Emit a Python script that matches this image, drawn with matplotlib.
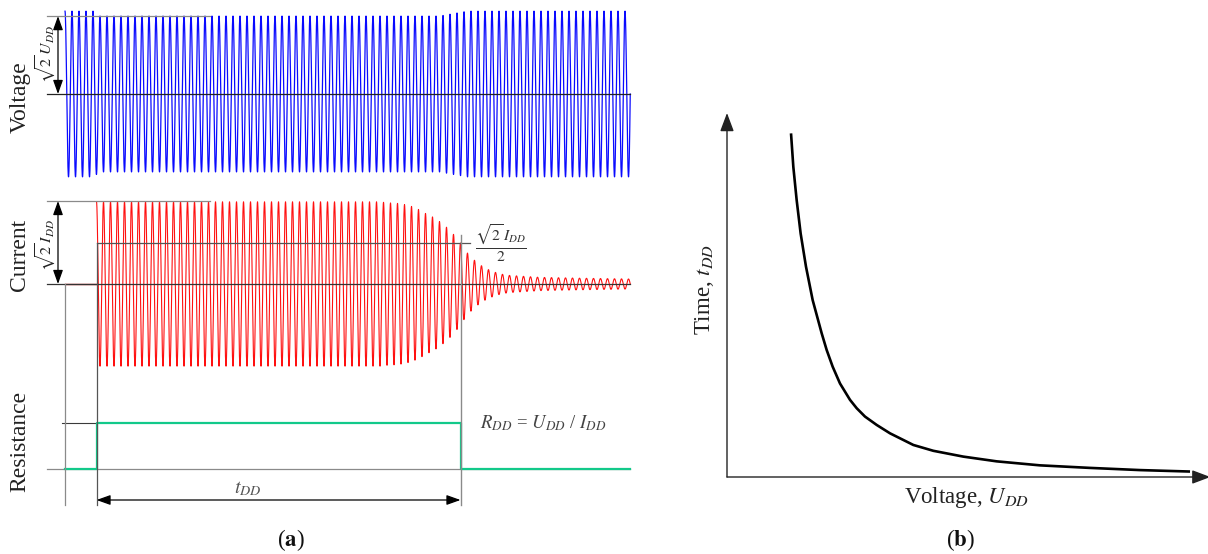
import numpy as np
import matplotlib
matplotlib.use("Agg")
import matplotlib.pyplot as plt

plt.rcParams['font.family'] = ['Liberation Serif', 'DejaVu Serif']
plt.rcParams['mathtext.fontset'] = 'stix'

# ---------------- data (panel a) ----------------
FREQ_HZ = 50.0
T_START = 0.0          # ms, start of record
T_FAULT = 90.0         # ms, fault inception
T_DD_END = 1130.0      # ms, end of t_DD
T_END = 1615.0         # ms, end of record

# voltage envelope (pu)
V_ENV_T = [0, 88, 92, 1070, 1150, 1615]
V_ENV_A = [1.01, 1.01, 0.95, 0.95, 1.01, 1.01]
V_REF = 0.95           # sqrt(2) U_DD

# current envelope (pu)
I_ENV_T = [90, 900, 917, 954, 977, 994, 1014, 1034, 1054, 1074, 1094, 1114, 1129,
           1146, 1166, 1186, 1206, 1226, 1246, 1266, 1300, 1357, 1471, 1615]
I_ENV_A = [0.99, 0.99, 0.98, 0.97, 0.95, 0.93, 0.89, 0.84, 0.80, 0.74, 0.67, 0.58, 0.50,
           0.39, 0.30, 0.23, 0.18, 0.145, 0.12, 0.105, 0.095, 0.08, 0.07, 0.06]
I_REF = 1.0            # sqrt(2) I_DD
I_HALF = 0.5           # sqrt(2) I_DD / 2

# resistance (step)
R_T = [0, 90, 1130, 1615]
R_V = [0, 1, 0, 0]

# ---------------- data (panel b) ----------------
U_DD = [1.331, 1.379, 1.448, 1.531, 1.642, 1.781, 1.968, 2.072, 2.197, 2.349, 2.557,
        2.696, 2.869, 3.112, 3.389, 3.874, 4.289, 4.913, 5.607, 6.507, 7.547, 8.586, 9.626]
T_DD = [9.44, 8.52, 7.61, 6.69, 5.78, 4.86, 3.95, 3.49, 3.03, 2.57, 2.12,
        1.89, 1.66, 1.43, 1.20, 0.88, 0.72, 0.56, 0.43, 0.32, 0.25, 0.19, 0.15]

# ---------------- layout ----------------
W, H = 1208, 554
fig = plt.figure(figsize=(W / 100, H / 100), dpi=100)

PX_PER_MS = 7.0 / 20.0
X0_PX = 65.0
def t_of_px(x):
    return (x - X0_PX) / PX_PER_MS

axa = fig.add_axes([0, 0, 640 / W, 1])
axa.set_xlim(t_of_px(0), t_of_px(640))
axa.set_ylim(H, 0)
axa.axis('off')

V_BASE, V_SCALE = 94.0, 82.0
I_BASE, I_SCALE = 284.0, 83.0
R_BASE, R_SCALE = 469.0, 46.0
BOTTOM = 505.0
ARROW_Y = 500.0
LEFT_T = t_of_px(47)
REF_END_T = t_of_px(210)
DIM_T = t_of_px(58)

gray = '#8a8a8a'
dark = '#3a3a3a'

# voltage
t = np.arange(T_START, T_END + 0.01, 0.2)
v = np.interp(t, V_ENV_T, V_ENV_A) * np.cos(2 * np.pi * FREQ_HZ * t / 1000.0)
axa.plot(t, V_BASE - V_SCALE * v, color='#0a0aff', lw=0.9, zorder=2)

# current
tc = np.arange(T_FAULT, T_END + 0.01, 0.2)
ic = np.interp(tc, I_ENV_T, I_ENV_A) * np.cos(2 * np.pi * FREQ_HZ * (tc - T_FAULT) / 1000.0)
axa.plot([T_START, T_FAULT], [I_BASE, I_BASE], color='#b00000', lw=1.0, zorder=3)
axa.plot(tc, I_BASE - I_SCALE * ic, color='#ff1010', lw=0.8, zorder=2)

# resistance
axa.plot([LEFT_T, T_END], [R_BASE, R_BASE], color=gray, lw=0.9, zorder=1)
axa.plot([t_of_px(62), T_FAULT], [R_BASE - R_SCALE, R_BASE - R_SCALE], color=dark, lw=0.8, zorder=1)
axa.step(R_T, R_BASE - R_SCALE * np.array(R_V), where='post', color='#12c98a', lw=1.6, zorder=3)

# zero and reference lines
axa.plot([LEFT_T, T_END], [V_BASE, V_BASE], color='#222222', lw=0.9, zorder=4)
axa.plot([LEFT_T, REF_END_T], [V_BASE - V_SCALE * V_REF] * 2, color=gray, lw=0.9, zorder=4)
axa.plot([LEFT_T, T_END], [I_BASE, I_BASE], color='#333333', lw=0.9, zorder=4)
axa.plot([LEFT_T, REF_END_T], [I_BASE - I_SCALE * I_REF] * 2, color=gray, lw=0.9, zorder=4)
axa.plot([T_FAULT, t_of_px(470)], [I_BASE - I_SCALE * I_HALF] * 2, color='#555555', lw=0.9, zorder=4)

# vertical guide lines
axa.plot([T_START, T_START], [I_BASE, BOTTOM], color=gray, lw=0.9, zorder=4)
axa.plot([T_FAULT, T_FAULT], [I_BASE - I_SCALE * I_HALF, BOTTOM], color='#555555', lw=0.9, zorder=4)
axa.plot([T_DD_END, T_DD_END], [I_BASE - I_SCALE * I_HALF - 8, BOTTOM], color=gray, lw=1.0, zorder=4)

arrow_kw = dict(arrowstyle='<|-|>,head_length=0.7,head_width=0.25', color='black', lw=0.9,
                shrinkA=0, shrinkB=0, mutation_scale=12)
axa.annotate('', xy=(DIM_T, V_BASE - V_SCALE * V_REF), xytext=(DIM_T, V_BASE), arrowprops=arrow_kw)
axa.annotate('', xy=(DIM_T, I_BASE - I_SCALE * I_REF), xytext=(DIM_T, I_BASE), arrowprops=arrow_kw)
axa.annotate('', xy=(T_FAULT, ARROW_Y), xytext=(T_DD_END, ARROW_Y), arrowprops=arrow_kw)

# texts panel a
axa.text(t_of_px(20), 97, 'Voltage', rotation=90, ha='center', va='center', fontsize=17, color='#222')
axa.text(t_of_px(20), 255, 'Current', rotation=90, ha='center', va='center', fontsize=17, color='#222')
axa.text(t_of_px(20), 441, 'Resistance', rotation=90, ha='center', va='center', fontsize=17, color='#222')
axa.text(t_of_px(46), 54, r'$\sqrt{2}\,U_{DD}$', rotation=90, ha='center', va='center', fontsize=11.5, color='#222')
axa.text(t_of_px(46), 245, r'$\sqrt{2}\,I_{DD}$', rotation=90, ha='center', va='center', fontsize=11.5, color='#222')
axa.text(t_of_px(501), 243, r'$\frac{\sqrt{2}\,I_{DD}}{2}$', ha='center', va='center', fontsize=16, color='#333')
axa.text(t_of_px(543), 423, r'$R_{DD}$ = $U_{DD}$ / $I_{DD}$', ha='center', va='center', fontsize=13.5, color='#444')
axa.text(t_of_px(248), 489, r'$t_{DD}$', ha='center', va='center', fontsize=14.5, color='#555')
axa.text(t_of_px(291), 540, r'($\mathbf{a}$)', ha='center', va='center', fontsize=16.5, color='#111')

# ---------------- panel b ----------------
bx0, bx1, by0, by1 = 727, 1208, 477, 113
axb = fig.add_axes([bx0 / W, (H - by0) / H, (bx1 - bx0) / W, (by0 - by1) / H])
axb.set_xlim(0, 10)
axb.set_ylim(0, 10)
axb.axis('off')
ax_arrow = dict(arrowstyle='-|>,head_length=0.8,head_width=0.3', color='#222222', lw=1.0,
                shrinkA=0, shrinkB=0, mutation_scale=14)
axb.annotate('', xy=(0, 1), xytext=(0, 0), xycoords='axes fraction', arrowprops=ax_arrow)
axb.annotate('', xy=(1.005, 0), xytext=(0, 0), xycoords='axes fraction', arrowprops=ax_arrow)
axb.plot(U_DD, T_DD, color='black', lw=1.9, solid_capstyle='butt', solid_joinstyle='round', clip_on=False)

fig.text(705 / W, 1 - 290 / H, r'Time, $t_{DD}$', rotation=90, ha='center', va='center', fontsize=16.5, color='#222')
fig.text(967 / W, 1 - 497 / H, r'Voltage, $U_{DD}$', ha='center', va='center', fontsize=16.5, color='#222')
fig.text(960 / W, 1 - 540 / H, r'($\mathbf{b}$)', ha='center', va='center', fontsize=16.5, color='#111')

fig.savefig('out.png', dpi=100)
